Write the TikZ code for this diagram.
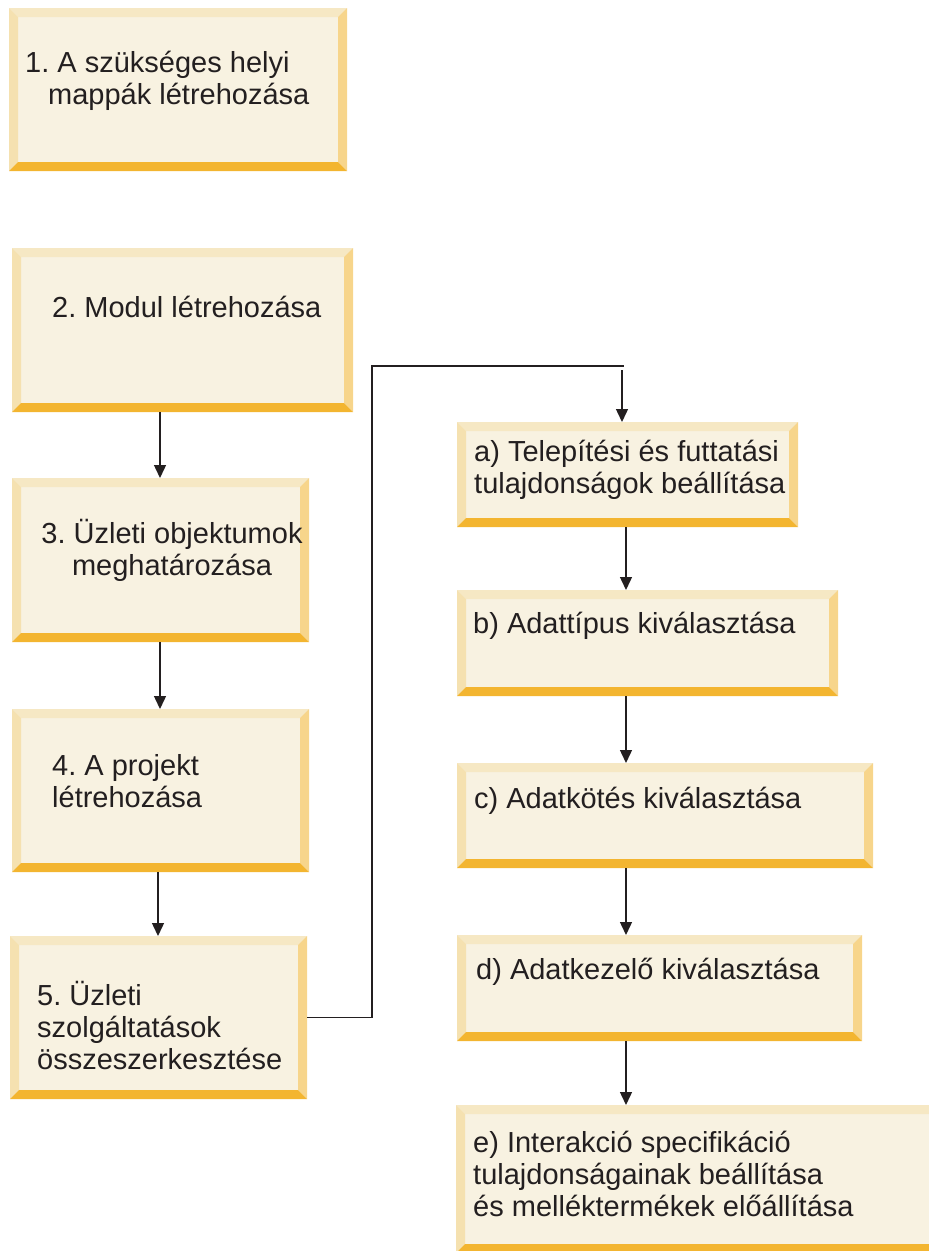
\documentclass[tikz,border=0pt]{standalone}
\usepackage{fontspec}
\setmainfont{Liberation Sans}
\usetikzlibrary{arrows.meta}
\frenchspacing

\definecolor{boxfill}{HTML}{F8F2E1}
\definecolor{bevtop}{HTML}{F6E8C4}
\definecolor{bevleft}{HTML}{F5E1B0}
\definecolor{bevright}{HTML}{F7D58B}
\definecolor{bevbottom}{HTML}{F3B530}
\definecolor{txt}{HTML}{231F20}
\definecolor{lineclr}{HTML}{231F20}

\tikzset{
  stepbox/.style={fill=boxfill, draw=none, inner sep=0pt, outer sep=0pt, anchor=north west},
  lbl/.style={inner sep=0pt, font=\fontsize{29}{32}\selectfont, text=txt},
  conn/.style={line width=1.4pt, draw=lineclr},
  arr/.style={conn, -{Triangle[length=13pt,width=12pt]}}
}

% bevelled box: name, left, top, right, bottom (in px, y downwards)
\newcommand\bevelbox[5]{%
  \node[stepbox, minimum width={#4pt-#2pt}, minimum height={#5pt-#3pt}] (#1) at (#2,#3) {};
  \fill[bevtop] (#1.north west) -- (#1.north east) -- ([shift={(-9pt,-9pt)}]#1.north east)
    -- ([shift={(9pt,-9pt)}]#1.north west) -- cycle;
  \fill[bevleft] (#1.north west) -- ([shift={(9pt,-9pt)}]#1.north west)
    -- ([shift={(9pt,9pt)}]#1.south west) -- (#1.south west) -- cycle;
  \fill[bevright] (#1.north east) -- (#1.south east) -- ([shift={(-9pt,9pt)}]#1.south east)
    -- ([shift={(-9pt,-9pt)}]#1.north east) -- cycle;
  \fill[bevbottom] (#1.south west) -- (#1.south east) -- ([shift={(-9pt,9pt)}]#1.south east)
    -- ([shift={(9pt,9pt)}]#1.south west) -- cycle;
}

\begin{document}
\begin{tikzpicture}[x=1pt, y=-1pt]
  \useasboundingbox (0,0) rectangle (929,1251);

  % left column
  \bevelbox{b1}{9}{8}{347}{171}
  \bevelbox{b2}{12}{248}{353}{412}
  \bevelbox{b3}{12}{478}{309}{642}
  \bevelbox{b4}{12}{709}{309}{872}
  \bevelbox{b5}{10}{936}{307}{1099}

  % right column
  \bevelbox{ba}{457}{422}{798}{527}
  \bevelbox{bb}{457}{590}{838}{696}
  \bevelbox{bc}{457}{763}{873}{868}
  \bevelbox{bd}{457}{935}{862}{1041}
  \bevelbox{be}{456}{1105}{945}{1253}

  % labels
  \node[lbl, anchor=base west] (t1) at (25,72)
    {\begin{tabular}[t]{@{}l@{}}1. A szükséges helyi\\\hspace*{23pt}mappák létrehozása\end{tabular}};
  \node[lbl, anchor=base west] (t2) at (52,317) {2. Modul létrehozása};
  \node[lbl, anchor=base] (t3) at (172,543)
    {\begin{tabular}[t]{@{}c@{}}3. Üzleti objektumok\\meghatározása\end{tabular}};
  \node[lbl, anchor=base west] (t4) at (52,775)
    {\begin{tabular}[t]{@{}l@{}}4. A projekt\\létrehozása\end{tabular}};
  \node[lbl, anchor=base west] (t5) at (37,1005)
    {\begin{tabular}[t]{@{}l@{}}5. Üzleti\\szolgáltatások\\összeszerkesztése\end{tabular}};

  \node[lbl, anchor=base west] (ta) at (474,461)
    {\begin{tabular}[t]{@{}l@{}}a) Telepítési és futtatási\\tulajdonságok beállítása\end{tabular}};
  \node[lbl, anchor=base west] (tb) at (473,633) {b) Adattípus kiválasztása};
  \node[lbl, anchor=base west] (tc) at (474,808) {c) Adatkötés kiválasztása};
  \node[lbl, anchor=base west] (td) at (476,979) {d) Adatkezelő kiválasztása};
  \node[lbl, anchor=base west] (te) at (473,1152)
    {\begin{tabular}[t]{@{}l@{}}e) Interakció specifikáció\\tulajdonságainak beállítása\\és melléktermékek előállítása\end{tabular}};

  % connector columns
  \coordinate (xl) at (160,0);
  \coordinate (xl5) at (158,0);
  \coordinate (xr) at (626,0);
  \coordinate (bend) at (372,366);
  \coordinate (joint) at (624,366);
  \coordinate (drop) at (622,370);

  % left column arrows
  \draw[arr] (b2.south -| xl) -- (b3.north -| xl);
  \draw[arr] (b3.south -| xl) -- (b4.north -| xl);
  \draw[arr] (b4.south -| xl5) -- (b5.north -| xl5);

  % branch from step 5 to the sub-steps
  \draw[conn] (b5.east) -| (bend) -- (joint);
  \draw[arr] (drop) -- (ba.north -| drop);

  % right column arrows
  \draw[arr] (ba.south -| xr) -- (bb.north -| xr);
  \draw[arr] (bb.south -| xr) -- (bc.north -| xr);
  \draw[arr] (bc.south -| xr) -- (bd.north -| xr);
  \draw[arr] (bd.south -| xr) -- (be.north -| xr);
\end{tikzpicture}
\end{document}
